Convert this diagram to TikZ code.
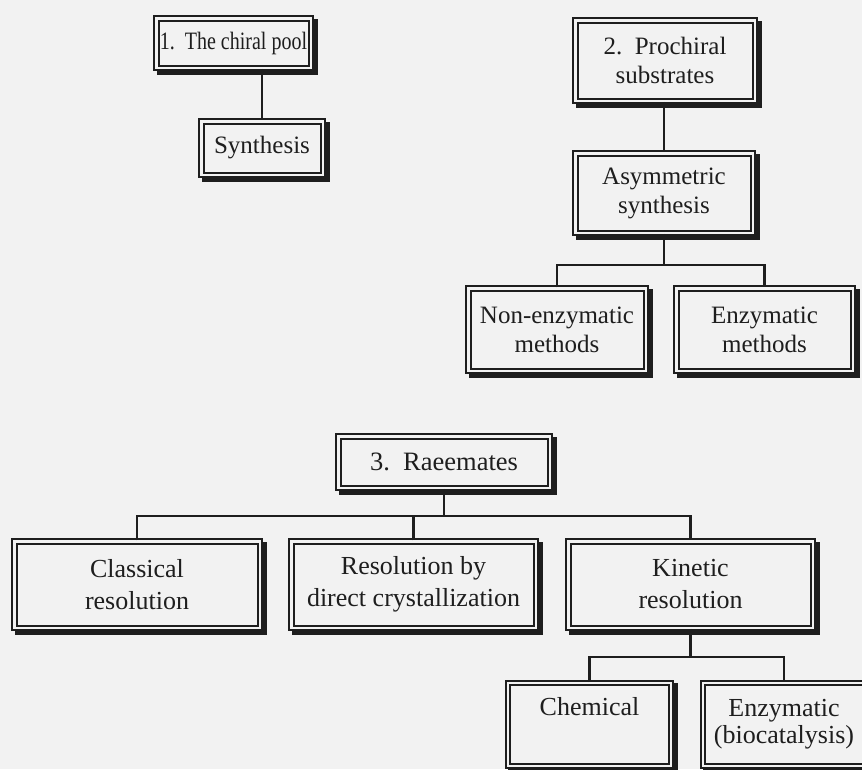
\documentclass[tikz,border=0pt]{standalone}
\usepackage{fontspec}
\setmainfont{Liberation Serif}
\newfontfamily\condfont[FakeStretch=0.8]{Liberation Serif}
\definecolor{bg}{HTML}{F2F2F2}
\definecolor{ink}{HTML}{1E1E1E}
\begin{document}
\begin{tikzpicture}[x=1pt,y=-1pt,
  boxnode/.style={draw=ink, line width=2pt, double=bg, double distance=2.5pt,
    fill=bg, align=center, inner sep=0pt, text=ink,
    font=\fontsize{25}{29}\selectfont,
    preaction={draw=ink, fill=ink, line width=6.5pt, transform canvas={xshift=3.5pt, yshift=-3.5pt}}},
  link/.style={draw=ink, line width=2.2pt}]
\fill[bg] (0,0) rectangle (862,769);
\useasboundingbox (0,0) rectangle (862,769);

% group 1
\node[boxnode, minimum width=154.5, minimum height=49.5, font=\condfont\fontsize{25}{29}\selectfont] (pool) at (233.5,43) {1.\ \ The chiral pool};
\node[boxnode, minimum width=121.5, minimum height=53.5] (syn) at (262,148) {Synthesis};
\draw[link] (syn.north |- pool.south) -- (syn.north);

% group 2
\node[boxnode, minimum width=179.5, minimum height=80.5] (pro) at (665,60.5) {2.\ \ Prochiral\\substrates};
\node[boxnode, minimum width=177.5, minimum height=79.5] (asym) at (664,193) {Asymmetric\\synthesis};
\node[boxnode, minimum width=177.5, minimum height=82.5] (nonenz) at (557,329.5) {Non-enzymatic\\methods};
\node[boxnode, minimum width=176.5, minimum height=82.5] (enz) at (764.5,329.5) {Enzymatic\\methods};
\draw[link] (asym.north |- pro.south) -- (asym.north);
\coordinate (bar1) at (0,265);
\draw[link] (asym.south) -- (asym.south |- bar1);
\draw[link] (nonenz.north) -- (nonenz.north |- bar1) -- (enz.north |- bar1) -- (enz.north);

% group 3
\node[boxnode, minimum width=211.5, minimum height=51.5, font=\fontsize{26.5}{32}\selectfont] (rac) at (444,462) {3.\ \ Raeemates};
\tikzset{rowthree/.style={minimum width=244.5, minimum height=86.5, font=\fontsize{26}{32}\selectfont}}
\node[boxnode, rowthree, minimum width=245.5] (clas) at (137,584.5) {Classical\\resolution};
\node[boxnode, rowthree] (res) at (413.5,584.5) {Resolution by\\direct crystallization};
\node[boxnode, rowthree] (kin) at (690.5,584.5) {Kinetic\\resolution};
\coordinate (bar2) at (0,516);
\draw[link] (rac.south) -- (rac.south |- bar2);
\draw[link] (clas.north) -- (clas.north |- bar2) -- (kin.north |- bar2) -- (kin.north);
\draw[link] (res.north) -- (res.north |- bar2);

\tikzset{rowfour/.style={minimum height=83, font=\fontsize{26}{27}\selectfont}}
\node[boxnode, rowfour, minimum width=163] (chem) at (589.5,724.5) {Chemical\\\strut};
\node[boxnode, rowfour, minimum width=162] (bio) at (784,724.5) {Enzymatic\\(biocatalysis)};
\coordinate (bar3) at (0,657);
\draw[link] (kin.south) -- (kin.south |- bar3);
\draw[link] (chem.north) -- (chem.north |- bar3) -- (bio.north |- bar3) -- (bio.north);
\end{tikzpicture}
\end{document}
